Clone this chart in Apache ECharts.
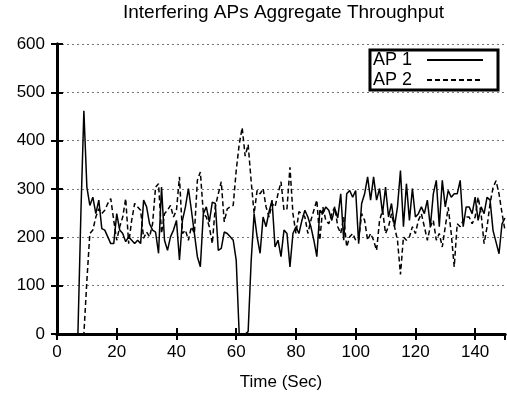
<!DOCTYPE html>
<html>
<head>
<meta charset="utf-8">
<script src="https://cdn.jsdelivr.net/npm/echarts@6/dist/echarts.min.js"></script>
<style>html,body{margin:0;padding:0;background:#fff;}#c{width:507px;height:397px;}</style>
</head>
<body>
<div id="c"></div>
<script>
// Throughput sampled once per second, t = 0..150 (index = second)
var ap1 = [0,0,0,0,0,0,0,0,250,462,
  304,266,283,249,277,218,215,201,187,187,
  249,215,208,191,201,194,187,194,187,277,
  263,228,215,211,167,304,194,173,201,215,
  235,153,235,263,301,256,208,160,139,249,
  263,232,273,270,173,177,211,208,201,194,
  153,0,0,0,5,150,249,201,167,242,
  222,253,277,180,194,160,215,208,139,208,
  222,208,235,256,242,222,194,160,256,249,
  263,256,235,260,240,290,194,290,297,283,
  297,187,270,290,325,277,325,277,301,249,
  304,242,270,222,263,338,222,311,235,301,
  242,249,263,249,277,222,290,318,222,318,
  263,297,283,290,290,318,222,263,263,249,
  283,235,263,249,283,277,214,190,166,228,
  240];
var ap2 = [0,0,0,0,0,0,0,0,0,0,
  110,208,215,242,259,249,256,270,280,235,
  194,222,242,280,187,235,270,263,256,198,
  211,201,228,304,311,208,249,256,266,242,
  256,325,208,215,194,222,208,318,335,249,
  242,222,187,263,290,315,232,259,263,266,
  338,392,427,368,392,317,249,297,290,301,
  263,242,270,263,290,315,256,259,345,249,
  208,253,249,242,208,235,256,277,194,263,
  235,228,249,263,222,208,242,180,201,208,
  194,194,249,235,194,208,194,173,235,256,
  208,222,249,222,194,123,201,194,201,222,
  208,235,249,222,194,222,235,194,208,180,
  222,262,208,139,228,222,235,242,242,228,
  242,283,249,187,222,270,303,317,290,250,
  214];
var xTicks = {min: 0, max: 150, interval: 20};
var yTicks = {min: 0, max: 600, interval: 100};
var seriesNames = ['AP 1', 'AP 2'];
var titleText = 'Interfering APs Aggregate Throughput';
var xName = 'Time (Sec)';

function pairs(arr){ return arr.map(function(v,i){ return [i, v]; }); }

var font = 'Liberation Sans, Arial, sans-serif';
var chart = echarts.init(document.getElementById('c'), null, {renderer:'canvas'});
var axisLineStyle = {show:true, lineStyle:{color:'#000', width:3}};
var tickStyle = {show:true, inside:true, length:6, lineStyle:{color:'#000', width:2}};
chart.setOption({
  animation:false,
  backgroundColor:'#fff',
  title:{text:titleText, left:123, top:3, padding:0,
    textStyle:{fontFamily:font, fontSize:19, fontWeight:'normal', color:'#000'}},
  grid:{left:57, right:2, top:44, bottom:63, containLabel:false},
  legend:{orient:'vertical', right:9, top:50, align:'right',
    backgroundColor:'#fff', borderColor:'#000', borderWidth:3,
    padding:[1,14,1,3], itemGap:2, itemWidth:56, itemHeight:14,
    itemStyle:{opacity:0},
    textStyle:{fontFamily:font, fontSize:18, color:'#000', padding:[0,10,0,0]},
    data:seriesNames},
  xAxis:[
    {type:'value', min:xTicks.min, max:xTicks.max, interval:xTicks.interval, position:'bottom',
     axisLine:axisLineStyle, axisTick:tickStyle, splitLine:{show:false},
     axisLabel:{color:'#000', fontFamily:font, fontSize:17, margin:10, showMaxLabel:false},
     name:xName, nameLocation:'middle', nameGap:40,
     nameTextStyle:{color:'#000', fontFamily:font, fontSize:17}},
    {type:'value', min:xTicks.min, max:xTicks.max, interval:xTicks.interval, position:'top',
     axisLine:axisLineStyle, axisTick:tickStyle, splitLine:{show:false}, axisLabel:{show:false}}
  ],
  yAxis:[
    {type:'value', min:yTicks.min, max:yTicks.max, interval:yTicks.interval, position:'left',
     axisLine:axisLineStyle, axisTick:tickStyle,
     splitLine:{show:true, lineStyle:{color:'#777', width:1, type:[2,3]}},
     axisLabel:{color:'#000', fontFamily:font, fontSize:17, margin:12}},
    {type:'value', min:yTicks.min, max:yTicks.max, interval:yTicks.interval, position:'right',
     axisLine:axisLineStyle, axisTick:tickStyle, splitLine:{show:false}, axisLabel:{show:false}}
  ],
  series:[
    {name:seriesNames[0], type:'line', data:pairs(ap1), symbol:'none', showSymbol:false,
     lineStyle:{color:'#000', width:1.5, type:'solid'}, itemStyle:{color:'#000'}, z:3},
    {name:seriesNames[1], type:'line', data:pairs(ap2), symbol:'none', showSymbol:false,
     lineStyle:{color:'#000', width:1.5, type:[5,3]}, itemStyle:{color:'#000'}, z:2}
  ]
});
</script>
</body>
</html>
